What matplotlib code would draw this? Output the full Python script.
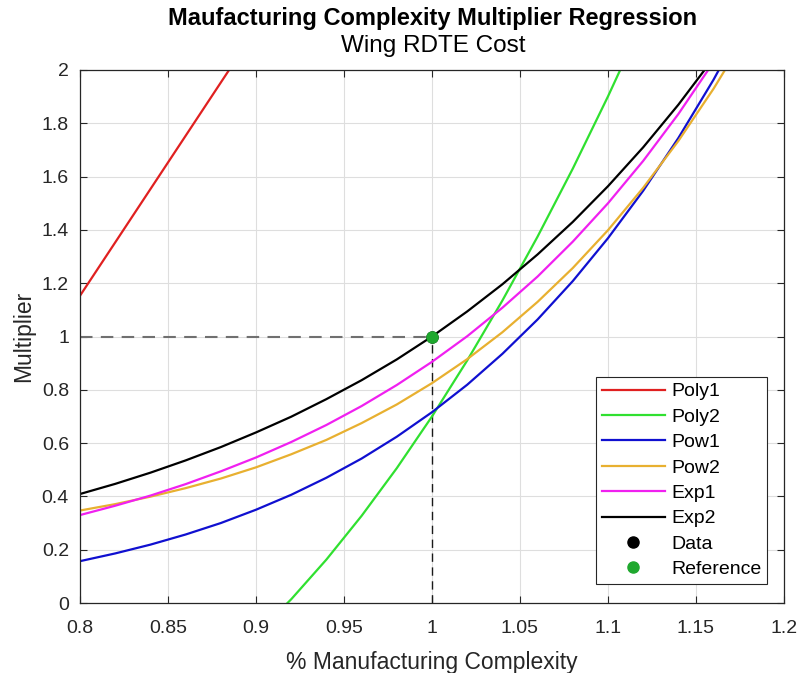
import matplotlib
matplotlib.use("Agg")
import matplotlib.pyplot as plt

plt.rcParams['font.family'] = ['Liberation Sans', 'DejaVu Sans']

# Complexity grid shared by the smooth regression curves
complexity = [0.80, 0.82, 0.84, 0.86, 0.88, 0.90, 0.92, 0.94, 0.96, 0.98,
              1.00, 1.02, 1.04, 1.06, 1.08, 1.10, 1.12, 1.14, 1.16, 1.18]

pow1 = [0.157, 0.186, 0.219, 0.257, 0.300, 0.350, 0.406, 0.470, 0.542, 0.624,
        0.716, 0.819, 0.935, 1.064, 1.208, 1.369, 1.547, 1.745, 1.964, 2.207]
pow2 = [0.347, 0.371, 0.399, 0.431, 0.467, 0.509, 0.558, 0.612, 0.675, 0.745,
        0.825, 0.915, 1.016, 1.130, 1.257, 1.399, 1.558, 1.734, 1.930, 2.147]
exp1 = [0.330, 0.365, 0.403, 0.446, 0.494, 0.546, 0.604, 0.668, 0.739, 0.818,
        0.905, 1.001, 1.108, 1.225, 1.356, 1.500, 1.659, 1.835, 2.030, 2.246]
exp2 = [0.409, 0.447, 0.489, 0.535, 0.585, 0.640, 0.699, 0.765, 0.836, 0.914,
        1.000, 1.094, 1.196, 1.308, 1.430, 1.564, 1.710, 1.870, 2.045, 2.236]

# Linear and quadratic fits
poly1_x = [0.80, 0.90]
poly1 = [1.153, 2.153]
poly2_x = [0.90, 0.92, 0.94, 0.96, 0.98, 1.00, 1.02, 1.04, 1.06, 1.08, 1.10, 1.12]
poly2 = [-0.119, 0.014, 0.163, 0.327, 0.506, 0.700, 0.910, 1.135, 1.375, 1.630, 1.901, 2.187]

# Data and reference point
data_x = [1.0]
data_y = [1.0]
ref_x = 1.0
ref_y = 1.0

x_ticks = [0.8, 0.85, 0.9, 0.95, 1.0, 1.05, 1.1, 1.15, 1.2]
x_tick_labels = ['0.8', '0.85', '0.9', '0.95', '1', '1.05', '1.1', '1.15', '1.2']
y_ticks = [0, 0.2, 0.4, 0.6, 0.8, 1.0, 1.2, 1.4, 1.6, 1.8, 2.0]
y_tick_labels = ['0', '0.2', '0.4', '0.6', '0.8', '1', '1.2', '1.4', '1.6', '1.8', '2']

W, H = 801, 673
fig = plt.figure(figsize=(W / 100, H / 100), dpi=100)
ax = fig.add_axes([80 / W, 1 - 603 / H, 704 / W, 533 / H])

dark = '#262626'
lw = 1.6

ax.plot([0.8, ref_x], [ref_y, ref_y], color='#707070', lw=1.5, dashes=(6, 4))
ax.plot([ref_x, ref_x], [0, ref_y], color='#1a1a1a', lw=1.0, dashes=(6, 4))

ax.plot(poly1_x, poly1, color='#e02020', lw=lw, label='Poly1')
ax.plot(poly2_x, poly2, color='#30e030', lw=lw, label='Poly2')
ax.plot(complexity, pow1, color='#1010d0', lw=lw, label='Pow1')
ax.plot(complexity, pow2, color='#e8b030', lw=lw, label='Pow2')
ax.plot(complexity, exp1, color='#f020f0', lw=lw, label='Exp1')
ax.plot(complexity, exp2, color='black', lw=lw, label='Exp2')
ax.plot(data_x, data_y, 'o', color='black', ms=8, label='Data')
ax.plot([ref_x], [ref_y], 'o', color='#1fa82e', ms=8, label='Reference')

ax.set_xlim(0.8, 1.2)
ax.set_ylim(0, 2)
ax.set_xticks(x_ticks)
ax.set_xticklabels(x_tick_labels)
ax.set_yticks(y_ticks)
ax.set_yticklabels(y_tick_labels)
ax.tick_params(direction='in', top=True, right=True, length=5, width=0.8,
               colors=dark, labelsize=14)
ax.tick_params(axis='x', pad=12)
ax.tick_params(axis='y', pad=8)
ax.grid(True, color='#dedede', lw=0.8)
ax.set_axisbelow(True)
for s in ax.spines.values():
    s.set_color(dark)
    s.set_linewidth(0.9)

ax.set_xlabel('% Manufacturing Complexity', fontsize=16.5, color=dark, labelpad=10)
ax.set_ylabel('Multiplier', fontsize=16.5, color=dark, labelpad=5)

fig.text(433 / W, 1 - 19 / H, 'Maufacturing Complexity Multiplier Regression',
         ha='center', va='center', fontsize=17, fontweight='bold', color='black')
fig.text(433 / W, 1 - 46 / H, 'Wing RDTE Cost', ha='center', va='center',
         fontsize=17.5, color='black')

leg = ax.legend(loc='lower right', bbox_to_anchor=(767 / W, 1 - 584 / H),
                bbox_transform=fig.transFigure, borderaxespad=0,
                fontsize=14, handlelength=3.25, handletextpad=0.3,
                labelspacing=0.4, borderpad=0.3, fancybox=False,
                framealpha=1, edgecolor=dark)
leg.get_frame().set_linewidth(0.8)

fig.savefig('out.png', dpi=100)
